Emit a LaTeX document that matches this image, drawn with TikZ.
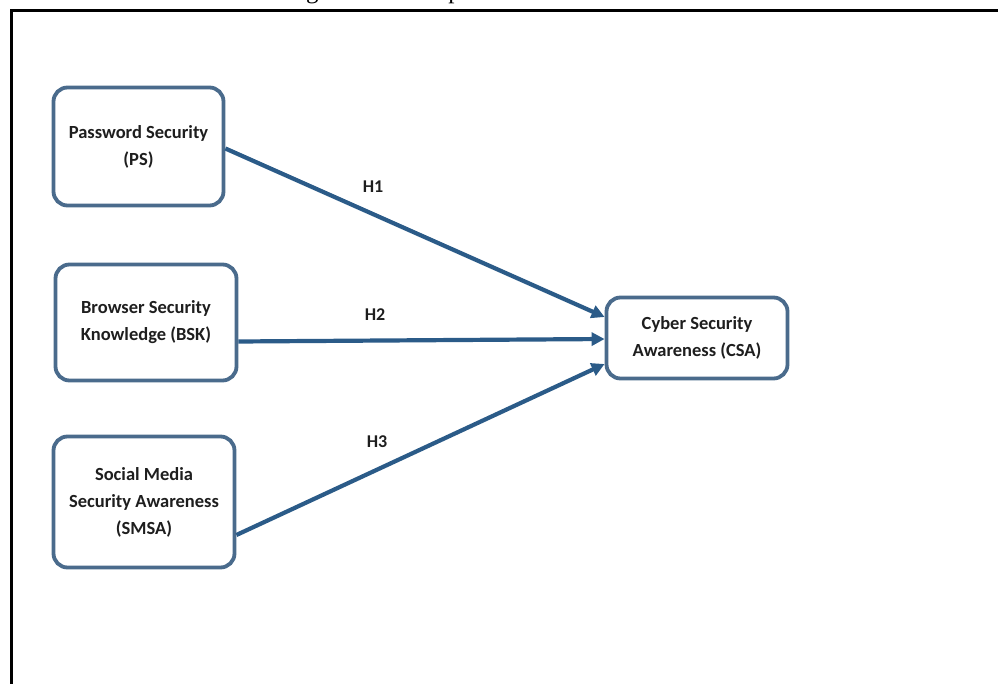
\documentclass[tikz,border=0pt]{standalone}
\usepackage{fontspec}
\setmainfont{Liberation Serif}
\newfontfamily\boxfont{Carlito}
\usetikzlibrary{arrows.meta}
\definecolor{boxline}{HTML}{4A6B8C}
\definecolor{arrowc}{HTML}{2B5B88}
\definecolor{txt}{HTML}{1E1E1E}
\begin{document}
\begin{tikzpicture}[x=1pt,y=-1pt,
  conc/.style={draw=boxline, line width=3.8pt, rounded corners=14pt, fill=white,
    align=center, font=\boxfont\bfseries\fontsize{18.5}{27}\selectfont, text=txt, inner sep=0pt},
  hyp/.style={font=\boxfont\bfseries\fontsize{18}{20}\selectfont, text=txt, inner sep=1pt},
  link/.style={draw=arrowc, line width=4.2pt, -{Triangle[length=13pt,width=13pt]}},
  frameline/.style={draw=black, line width=3pt}]
\useasboundingbox (0,0) rectangle (998,684);
\begin{scope}
  \clip (0,0) rectangle (998,9);
  \node[anchor=base west, font=\fontsize{25}{30}\selectfont, inner sep=0pt] (cap) at (285,-1.5) {Figure 1: Conceptual Framework};
\end{scope}
\coordinate (fb) at (11.5,684);
\coordinate (ftl) at (11.5,11);
\coordinate (fr) at (998,11);
\draw[frameline] (fb) -- (ftl) -- (fr);

\node[conc, minimum width=170pt, minimum height=118pt] (ps) at (138.5,146.5) {Password Security\\(PS)};
\node[conc, minimum width=181pt, minimum height=116pt] (bsk) at (146,322.5) {Browser Security\\Knowledge (BSK)};
\node[conc, minimum width=181pt, minimum height=131pt] (smsa) at (144,502) {Social Media\\Security Awareness\\(SMSA)};
\node[conc, minimum width=181pt, minimum height=81pt] (csa) at (697,338) {Cyber Security\\Awareness (CSA)};

\draw[link] ([yshift=-2pt]ps.east) -- ([yshift=21pt]csa.west);
\draw[link] ([yshift=-19pt]bsk.east) -- ([yshift=-1pt]csa.west);
\draw[link] ([yshift=-33pt]smsa.east) -- ([yshift=-26pt]csa.west);

\node[hyp] (h1) at (373,187) {H1};
\node[hyp] (h2) at (375,315) {H2};
\node[hyp] (h3) at (377,442) {H3};
\end{tikzpicture}
\end{document}
